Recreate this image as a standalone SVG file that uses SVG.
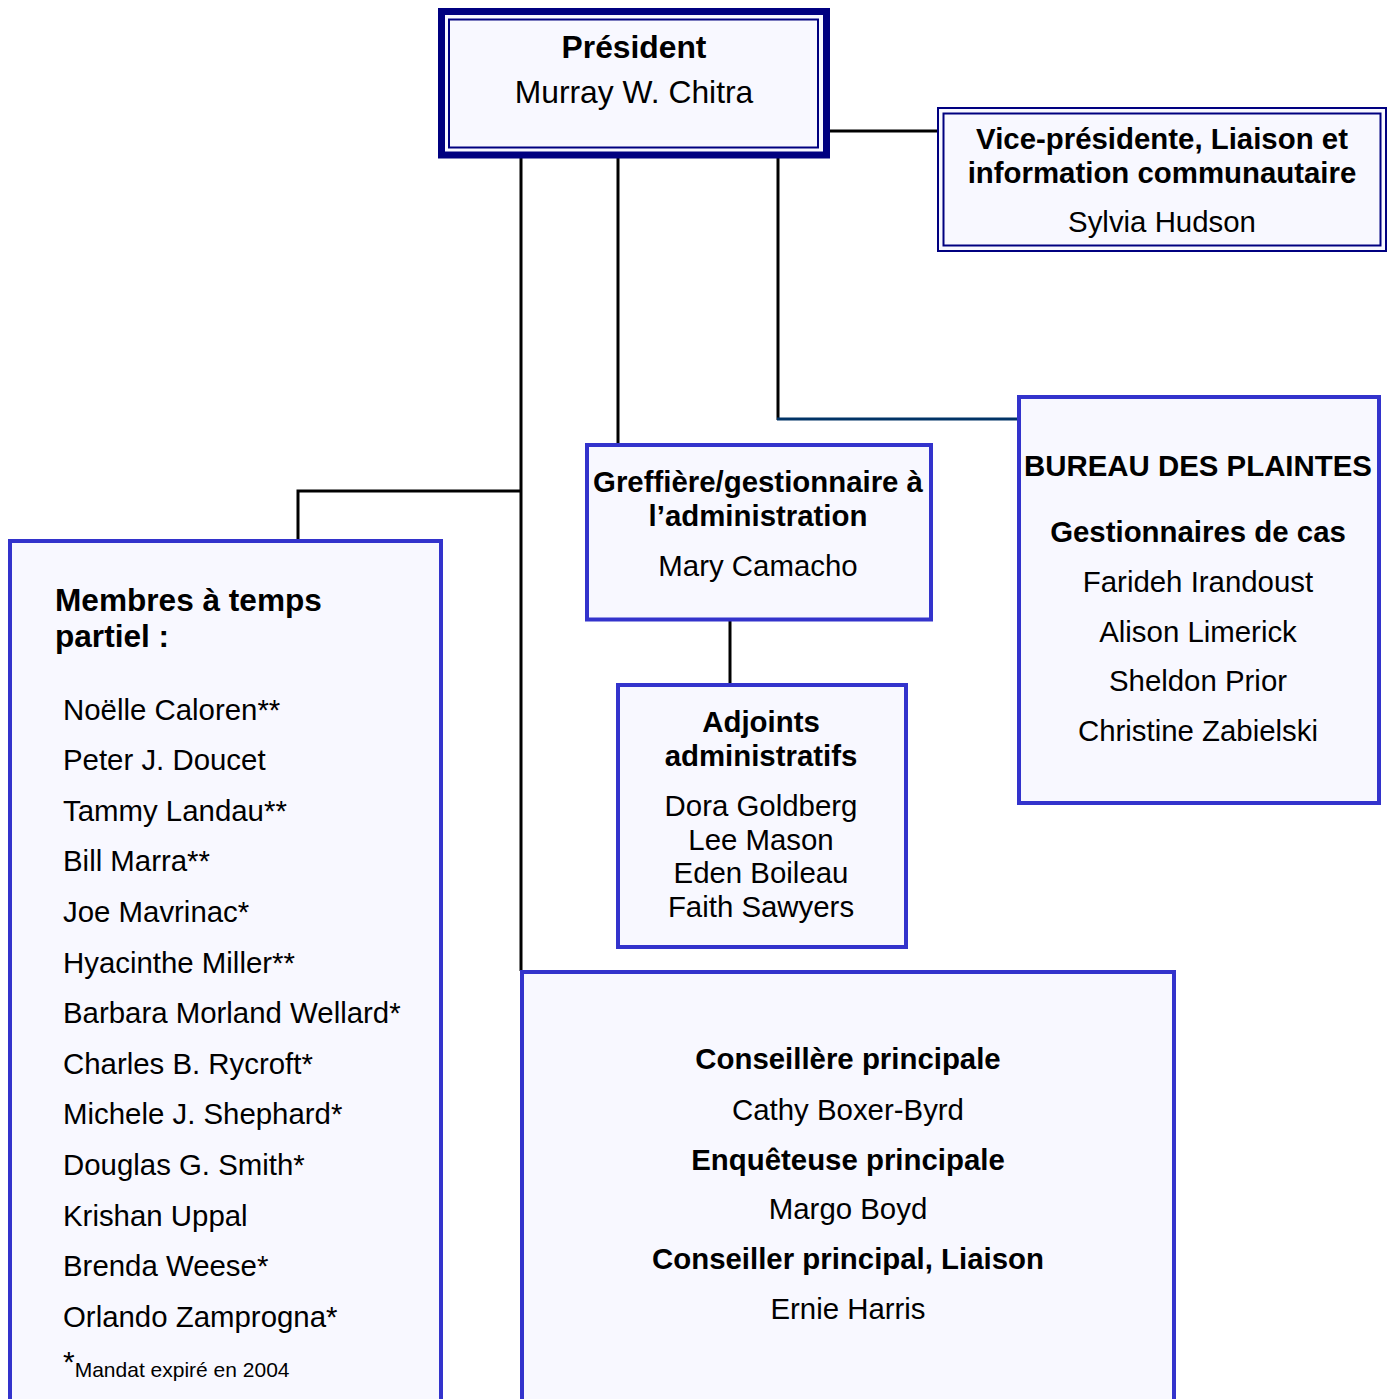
<svg xmlns="http://www.w3.org/2000/svg" width="1390" height="1399" viewBox="0 0 1390 1399">
<style>
text{font-family:"Liberation Sans",Arial,sans-serif;fill:#000;font-size:29.4px}
.b{font-weight:bold}
.c{text-anchor:middle}
.box{fill:#f8f8ff;stroke:#3333cc;stroke-width:4}
.nv{fill:none;stroke:#000080}
.ln{fill:none;stroke:#000;stroke-width:3}
</style>
<rect width="1390" height="1399" fill="#fff"/>
<g id="connectors">
<path class="ln" d="M830,131H938"/>
<path class="ln" d="M521,158V971"/>
<path class="ln" d="M618,158V444"/>
<path class="ln" d="M778,158V420"/>
<path fill="none" stroke="#003366" stroke-width="3" d="M777,419H1018"/>
<path class="ln" d="M522,491H298V540"/>
<path class="ln" d="M730,620V685"/>
</g>
<g id="president">
<rect x="441.5" y="11.5" width="385" height="143.5" fill="#f8f8ff" stroke="#000080" stroke-width="7"/>
<rect class="nv" x="449" y="19.5" width="369" height="128" stroke-width="2"/>
<text class="b c" x="634" y="58" style="font-size:31.8px">Président</text>
<text class="c" x="634" y="103" style="font-size:31.8px">Murray W. Chitra</text>
</g>
<g id="vp">
<rect x="938" y="108" width="448" height="143" fill="#f8f8ff" stroke="#000080" stroke-width="2"/>
<rect class="nv" x="943.5" y="113.5" width="437" height="132" stroke-width="2"/>
<text class="b c" x="1162" y="149">Vice-présidente, Liaison et</text>
<text class="b c" x="1162" y="183">information communautaire</text>
<text class="c" x="1162" y="232">Sylvia Hudson</text>
</g>
<g id="bureau">
<rect class="box" x="1019" y="397" width="360" height="406"/>
<text class="b c" x="1198" y="476">BUREAU DES PLAINTES</text>
<text class="b c" x="1198" y="542">Gestionnaires de cas</text>
<text class="c" x="1198" y="592">Farideh Irandoust</text>
<text class="c" x="1198" y="642">Alison Limerick</text>
<text class="c" x="1198" y="691">Sheldon Prior</text>
<text class="c" x="1198" y="741">Christine Zabielski</text>
</g>
<g id="greffiere">
<rect class="box" x="587" y="445" width="344" height="174.5"/>
<text class="b c" x="758" y="492">Greffière/gestionnaire à</text>
<text class="b c" x="758" y="526">l’administration</text>
<text class="c" x="758" y="576">Mary Camacho</text>
</g>
<g id="adjoints">
<rect class="box" x="618" y="685" width="288" height="262"/>
<text class="b c" x="761" y="732">Adjoints</text>
<text class="b c" x="761" y="766">administratifs</text>
<text class="c" x="761" y="816">Dora Goldberg</text>
<text class="c" x="761" y="850">Lee Mason</text>
<text class="c" x="761" y="883">Eden Boileau</text>
<text class="c" x="761" y="917">Faith Sawyers</text>
</g>
<g id="membres">
<rect class="box" x="10" y="541" width="431" height="880"/>
<text class="b" x="55" y="611" style="font-size:31.6px">Membres à temps</text>
<text class="b" x="55" y="647" style="font-size:31.6px">partiel :</text>
<text x="63" y="720">Noëlle Caloren**</text>
<text x="63" y="770">Peter J. Doucet</text>
<text x="63" y="821">Tammy Landau**</text>
<text x="63" y="871">Bill Marra**</text>
<text x="63" y="922">Joe Mavrinac*</text>
<text x="63" y="973">Hyacinthe Miller**</text>
<text x="63" y="1023">Barbara Morland Wellard*</text>
<text x="63" y="1074">Charles B. Rycroft*</text>
<text x="63" y="1124">Michele J. Shephard*</text>
<text x="63" y="1175">Douglas G. Smith*</text>
<text x="63" y="1226">Krishan Uppal</text>
<text x="63" y="1276">Brenda Weese*</text>
<text x="63" y="1327">Orlando Zamprogna*</text>
<text x="63" y="1377"><tspan style="font-size:30px" dy="-5">*</tspan><tspan style="font-size:21px" dy="5">Mandat expiré en 2004</tspan></text>
</g>
<g id="conseillers">
<rect class="box" x="522" y="972" width="652" height="450"/>
<text class="b c" x="848" y="1069">Conseillère principale</text>
<text class="c" x="848" y="1120">Cathy Boxer-Byrd</text>
<text class="b c" x="848" y="1170">Enquêteuse principale</text>
<text class="c" x="848" y="1219">Margo Boyd</text>
<text class="b c" x="848" y="1269">Conseiller principal, Liaison</text>
<text class="c" x="848" y="1319">Ernie Harris</text>
</g>
</svg>
